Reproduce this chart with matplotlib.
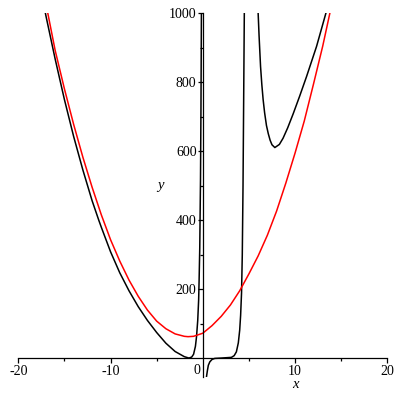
import matplotlib
matplotlib.use("Agg")
import matplotlib.pyplot as plt

# ---- data ----
red_x = [-16.8, -16, -15, -14, -13, -12, -11, -10, -9, -8, -7, -6, -5, -4, -3, -2, -1.6,
         -1, 0, 1, 2, 3, 4, 5, 6, 7, 8, 9, 10, 11, 12, 13, 13.77]
red_y = [1000, 892, 781, 678, 583, 496, 416, 344, 282, 227, 180, 140, 108, 86, 71, 64, 63,
         64, 73, 95, 122, 155, 196, 245, 297, 357, 427, 508, 595, 688, 795, 905, 1000]

black_left_x = [-17.06, -17, -16, -15, -14, -13, -12, -11.27, -11, -10, -9, -8, -7, -6, -5,
                -4, -3, -2, -1.5, -1.2, -1.0, -0.8, -0.68, -0.55, -0.45, -0.4, -0.33,
                -0.25, -0.2, -0.15]
black_left_y = [1000, 992, 867, 750, 643, 546, 457, 400, 380, 309, 248, 196, 150, 110, 75,
                44, 20, 5, 1, 4, 12, 35, 63, 110, 170, 227, 320, 517, 720, 1000]

black_mid_x = [0.35, 0.4, 0.5, 0.6, 0.76, 1.0, 1.3, 2.0, 3.1, 3.4, 3.64, 3.85, 4.0, 4.1,
               4.2, 4.28, 4.36, 4.43, 4.5]
black_mid_y = [-80, -53, -35, -20, -10, -3, 0, 1, 3, 8, 19, 45, 82, 125, 190, 300, 500,
               750, 1000]

black_right_x = [6.0, 6.1, 6.26, 6.4, 6.54, 6.7, 6.9, 7.1, 7.3, 7.5, 7.81, 8.3, 8.7, 9.2,
                 9.8, 10.5, 11.25, 12.33, 13.34]
black_right_y = [1000, 935, 846, 793, 750, 712, 675, 651, 632, 619, 611, 620, 638, 668,
                 709, 760, 817, 904, 1000]

xticks = [-20, -10, 10, 20]
xtick_labels = ["-20", "-10", "10", "20"]
xminor = [-15, -5, 5, 15]
yticks = [200, 400, 600, 800, 1000]
ytick_labels = ["200", "400", "600", "800", "1000"]
yminor = [100, 300, 500, 700, 900]

# ---- figure ----
serif = ["Liberation Serif", "DejaVu Serif"]
fig = plt.figure(figsize=(4, 4), dpi=100)
ax = fig.add_axes([18.3 / 400, 1 - 376.7 / 400, 369 / 400, (376.7 - 13.3) / 400])
ax.set_xlim(-20, 20)
ax.set_ylim(-53, 1000)

ax.plot(black_left_x, black_left_y, color="black", lw=1.1)
ax.plot(black_mid_x, black_mid_y, color="black", lw=1.1)
ax.plot(black_right_x, black_right_y, color="black", lw=1.1)
ax.plot(red_x, red_y, color="#ff0000", lw=1.1)

for s in ["top", "right"]:
    ax.spines[s].set_visible(False)
ax.spines["left"].set_position(("data", 0))
ax.spines["bottom"].set_position(("data", 0))
for s in ["left", "bottom"]:
    ax.spines[s].set_linewidth(0.9)

ax.set_xticks(xticks)
ax.set_xticklabels(xtick_labels, fontfamily=serif, fontsize=10)
ax.set_xticks(xminor, minor=True)
ax.set_yticks(yticks)
ax.set_yticklabels(ytick_labels, fontfamily=serif, fontsize=10)
ax.set_yticks(yminor, minor=True)
ax.tick_params(axis="both", which="major", direction="out", length=3.5, width=0.9, pad=1)
ax.tick_params(axis="both", which="minor", direction="out", length=2.2, width=0.9)

ax.text(-0.68, -34, "0", fontfamily=serif, fontsize=10, ha="center", va="center")
fig.text(295 / 400, 1 - 385 / 400, "x", fontfamily=serif, fontstyle="italic",
         fontsize=10.5, ha="center", va="center")
fig.text(160 / 400, 1 - 185 / 400, "y", fontfamily=serif, fontstyle="italic",
         fontsize=10.5, ha="center", va="center")

fig.savefig("out.png", dpi=100)
